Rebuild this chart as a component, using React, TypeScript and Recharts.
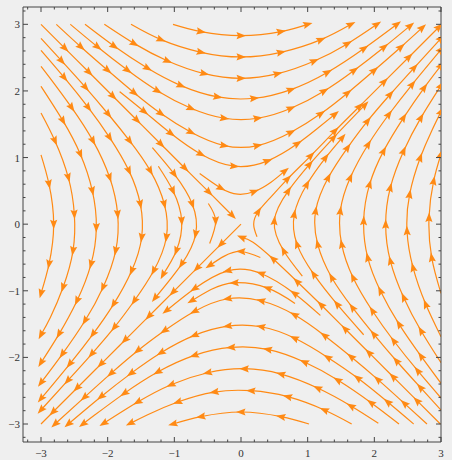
import { LineChart, Line, XAxis, YAxis } from "recharts";

// streamlines of a saddle field as [x, y] (third value 0 = no arrowhead)
const top1 = [[-1.02, 3.0], [-0.6, 2.89], [0, 2.83], [0.6, 2.89], [1.0, 3.0]];
const top2 = [[-1.65, 3.0], [-1.2, 2.77], [-0.6, 2.58], [0, 2.51], [0.6, 2.58], [1.2, 2.77], [1.65, 3.0]];
const top3 = [[-2.05, 3.0], [-1.6, 2.71], [-1.1, 2.45], [-0.55, 2.26], [0, 2.19], [0.55, 2.26], [1.1, 2.45], [1.6, 2.71], [2.04, 3.0]];
const top4 = [[-2.34, 3.0], [-1.9, 2.67], [-1.4, 2.34], [-0.9, 2.08], [-0.35, 1.91], [0.2, 1.89], [0.75, 2.02], [1.3, 2.28], [1.85, 2.64], [2.34, 3.0]];
const top5 = [[-2.56, 3.0], [-2.15, 2.66], [-1.7, 2.31], [-1.25, 2.0], [-0.75, 1.74], [-0.25, 1.59], [0.25, 1.59], [0.75, 1.74], [1.25, 2.0], [1.7, 2.31], [2.15, 2.66], [2.54, 2.98]];
const top6 = [[-2.77, 3.0], [-2.4, 2.66], [-2.0, 2.31], [-1.6, 1.97], [-1.2, 1.66], [-0.75, 1.38], [-0.25, 1.18], [0.25, 1.18], [0.75, 1.38], [1.2, 1.66], [1.6, 1.97], [2.0, 2.31], [2.4, 2.66], [2.72, 2.95]];
const top7 = [[-1.82, 1.99], [-1.45, 1.69], [-1.05, 1.36], [-0.6, 1.05], [-0.1, 0.87], [0.4, 0.95], [0.85, 1.21], [1.15, 1.44, 0], [1.41, 1.65]];
const top8 = [[-0.62, 0.76], [-0.3, 0.54], [-0.05, 0.45, 0], [0.2, 0.49], [0.45, 0.63, 0], [0.66, 0.8]];

const bot1 = [[1.02, -3.0], [0.6, -2.89], [0, -2.82], [-0.6, -2.89], [-1.02, -3.0]];
const bot2 = [[1.66, -3.0], [1.25, -2.79], [0.7, -2.59], [0.15, -2.5], [-0.4, -2.52], [-0.95, -2.67], [-1.4, -2.86, 0], [-1.66, -2.99]];
const bot3 = [[2.06, -2.99], [1.65, -2.73], [1.15, -2.46], [0.6, -2.25], [0.05, -2.17], [-0.5, -2.23], [-1.05, -2.41], [-1.55, -2.67], [-2.06, -2.99]];
const bot4 = [[2.37, -3.0], [1.95, -2.68], [1.45, -2.34], [0.95, -2.07], [0.4, -1.88], [-0.15, -1.85], [-0.7, -1.97], [-1.25, -2.22], [-1.75, -2.54], [-2.2, -2.87, 0], [-2.37, -3.0]];
const bot5 = [[2.59, -3.0], [2.2, -2.67], [1.75, -2.31], [1.3, -2.0], [0.8, -1.71], [0.3, -1.54], [-0.2, -1.53], [-0.7, -1.67], [-1.2, -1.93], [-1.65, -2.24], [-2.1, -2.59], [-2.59, -3.0]];
const bot6 = [[2.79, -3.0], [2.45, -2.69], [2.05, -2.33], [1.65, -1.99], [1.25, -1.67], [0.8, -1.36], [0.3, -1.15], [-0.2, -1.12], [-0.7, -1.31], [-1.15, -1.6], [-1.55, -1.9], [-1.95, -2.24], [-2.35, -2.6], [-2.79, -3.0]];
const bot7 = [[0.81, -1.19], [0.4, -0.96], [-0.1, -0.88], [-0.45, -0.98, 0], [-0.74, -1.15]];
const bot8 = [[0.29, -0.5], [0.0, -0.41], [-0.25, -0.48, 0], [-0.47, -0.62]];
const bot9 = [[1.19, -1.37], [0.8, -1.04], [0.3, -0.74], [-0.2, -0.7], [-0.7, -0.97], [-1.12, -1.3]];

const left1 = [[-3.0, 2.79], [-2.69, 2.45], [-2.33, 2.05], [-1.99, 1.65], [-1.67, 1.25], [-1.36, 0.8], [-1.15, 0.3], [-1.12, -0.2], [-1.31, -0.7], [-1.6, -1.15], [-1.9, -1.55], [-2.24, -1.95], [-2.6, -2.35], [-3.0, -2.79]];
const left2 = [[-3.0, 2.61], [-2.65, 2.2], [-2.29, 1.75], [-1.97, 1.3], [-1.68, 0.8], [-1.51, 0.3], [-1.49, -0.2], [-1.64, -0.7], [-1.91, -1.2], [-2.22, -1.65], [-2.57, -2.1], [-3.0, -2.62]];
const left3 = [[-3.0, 2.37], [-2.87, 2.2, 0], [-2.54, 1.75], [-2.22, 1.25], [-1.97, 0.7], [-1.85, 0.15], [-1.88, -0.4], [-2.07, -0.95], [-2.34, -1.45], [-2.68, -1.95], [-3.0, -2.38]];
const left4 = [[-3.0, 2.07], [-2.67, 1.55], [-2.41, 1.05], [-2.23, 0.5], [-2.17, -0.05], [-2.25, -0.6], [-2.46, -1.15], [-2.73, -1.65], [-3.0, -2.08]];
const left5 = [[-3.0, 1.67], [-2.79, 1.25], [-2.59, 0.7], [-2.5, 0.15], [-2.52, -0.4], [-2.67, -0.95], [-2.86, -1.4, 0], [-3.0, -1.66]];
const left6 = [[-3.0, 1.04], [-2.88, 0.6], [-2.81, 0.0], [-2.88, -0.6], [-3.0, -1.04]];
const left7 = [[-1.24, 0.87], [-1.02, 0.5], [-0.89, 0.05], [-0.97, -0.4], [-1.17, -0.76]];
const left8 = [[-1.33, 1.15], [-1.0, 0.75], [-0.73, 0.3], [-0.68, -0.15], [-0.89, -0.6], [-1.29, -1.11]];
const left9 = [[-0.49, 0.31], [-0.38, 0.05], [-0.47, -0.29, 0]];

const right1 = [[3.0, -2.79], [2.69, -2.45], [2.33, -2.05], [1.99, -1.65], [1.67, -1.25], [1.36, -0.8], [1.15, -0.3], [1.12, 0.2], [1.31, 0.7], [1.6, 1.15], [1.9, 1.55], [2.24, 1.95], [2.6, 2.35], [3.0, 2.79]];
const right2 = [[3.0, -2.61], [2.65, -2.2], [2.29, -1.75], [1.97, -1.3], [1.68, -0.8], [1.51, -0.3], [1.49, 0.2], [1.64, 0.7], [1.91, 1.2], [2.22, 1.65], [2.57, 2.1], [3.0, 2.62]];
const right3 = [[3.0, -2.39], [2.7, -1.98], [2.37, -1.5], [2.09, -1.0], [1.9, -0.5], [1.84, 0.05], [1.93, 0.6], [2.14, 1.1], [2.44, 1.6], [2.75, 2.05], [3.0, 2.38]];
const right4 = [[3.0, -2.08], [2.7, -1.6], [2.44, -1.1], [2.24, -0.55], [2.17, 0.0], [2.24, 0.55], [2.44, 1.1], [2.7, 1.6], [3.0, 2.08]];
const right5 = [[3.0, -1.69], [2.77, -1.2], [2.58, -0.65], [2.49, -0.1], [2.53, 0.45], [2.69, 1.0], [2.86, 1.4, 0], [3.0, 1.69]];
const right6 = [[3.0, -1.04], [2.86, -0.5], [2.82, 0.1], [2.89, 0.65], [3.0, 1.05]];
const right7 = [[1.84, -1.66], [1.44, -1.2], [1.09, -0.75], [0.84, -0.3], [0.8, 0.15], [0.99, 0.6], [1.27, 1.0], [1.52, 1.3]];
const right8 = [[0.92, -0.78], [0.64, -0.4], [0.5, 0.05], [0.71, 0.5], [1.03, 0.9], [1.39, 1.3], [1.86, 1.79]];

const diag1 = [[-3.0, 3.0], [-2.64, 2.64], [-2.28, 2.28], [-1.92, 1.92], [-1.56, 1.56], [-1.2, 1.2], [-0.84, 0.84], [-0.48, 0.48], [-0.13, 0.13]];
const diag2 = [[0.0, 0.0], [-0.3, -0.3], [-0.66, -0.66], [-1.02, -1.02], [-1.38, -1.38], [-1.74, -1.74], [-2.1, -2.1], [-2.46, -2.46], [-2.82, -2.82], [-3.0, -3.0, 0]];
const diag3 = [[0.24, -0.19], [0.19, 0.0, 0], [0.26, 0.19], [0.45, 0.41, 0], [0.7, 0.68], [1.05, 1.03], [1.41, 1.4], [1.78, 1.77], [2.15, 2.14], [2.52, 2.51], [2.97, 2.96]];
const diag4 = [[2.99, -3.0], [2.64, -2.65], [2.28, -2.29], [1.92, -1.93], [1.56, -1.57], [1.2, -1.21], [0.84, -0.86], [0.48, -0.52], [0.18, -0.27, 0], [0.01, -0.2]];

const xTicks = [-3.2, -3, -2.8, -2.6, -2.4, -2.2, -2, -1.8, -1.6, -1.4, -1.2, -1, -0.8, -0.6, -0.4, -0.2, 0, 0.2, 0.4, 0.6, 0.8, 1, 1.2, 1.4, 1.6, 1.8, 2, 2.2, 2.4, 2.6, 2.8, 3];
const yTicks = [...xTicks, 3.2];

const streams = [
  top1, top2, top3, top4, top5, top6, top7, top8,
  bot1, bot2, bot3, bot4, bot5, bot6, bot7, bot8, bot9,
  left1, left2, left3, left4, left5, left6, left7, left8, left9,
  right1, right2, right3, right4, right5, right6, right7, right8,
  diag1, diag2, diag3, diag4,
];

const ORANGE = "#ff8a14";
const FRAME = "#444";
const LABEL = "#333";

const toPoints = (raw: number[][]) =>
  raw.map((p, i) => {
    const prev = raw[Math.max(i - 1, 0)];
    const next = raw[Math.min(i + 1, raw.length - 1)];
    return { x: p[0], y: p[1], arrow: i > 0 && p[2] !== 0, dx: next[0] - prev[0], dy: next[1] - prev[1] };
  });

const series = streams.map(toPoints);

const isMajor = (v: number) => Math.abs(v - Math.round(v)) < 1e-6;
const fmt = (v: number) => (v < 0 ? "\u2212" + Math.abs(Math.round(v)) : String(Math.round(v)));

// arrowhead along the stream; x and y share the same px-per-unit so the data direction works directly
const Arrow = (props: any) => {
  const { cx, cy, payload, index } = props;
  if (!payload || !payload.arrow || cx == null || cy == null) return <g key={`n${index}`} />;
  const len = Math.hypot(payload.dx, payload.dy) || 1;
  const ux = payload.dx / len;
  const uy = -payload.dy / len;
  const tipX = cx + 5 * ux, tipY = cy + 5 * uy;
  const bx = cx - 4.5 * ux, by = cy - 4.5 * uy;
  const nx = -uy * 3.6, ny = ux * 3.6;
  const d = `M${tipX},${tipY} L${bx + nx},${by + ny} L${bx + 1.5 * ux},${by + 1.5 * uy} L${bx - nx},${by - ny} Z`;
  return <path key={`a${index}`} d={d} fill={ORANGE} stroke="none" />;
};

const BottomTick = ({ x, y, payload }: any) => {
  const major = isMajor(payload.value);
  return (
    <g>
      <line x1={x} x2={x} y1={y} y2={y - (major ? 5 : 2.5)} stroke={FRAME} />
      {major && (
        <text x={x} y={y + 15} textAnchor="middle" fontFamily="Liberation Serif" fontSize={11} fill={LABEL}>
          {fmt(payload.value)}
        </text>
      )}
    </g>
  );
};

const TopTick = ({ x, y, payload }: any) => {
  const major = isMajor(payload.value);
  return <line x1={x} x2={x} y1={y} y2={y + (major ? 5 : 2.5)} stroke={FRAME} />;
};

const LeftTick = ({ x, y, payload }: any) => {
  const major = isMajor(payload.value);
  return (
    <g>
      <line x1={x} x2={x + (major ? 5 : 2.5)} y1={y} y2={y} stroke={FRAME} />
      {major && (
        <text x={x - 3} y={y + 4} textAnchor="end" fontFamily="Liberation Serif" fontSize={11} fill={LABEL}>
          {fmt(payload.value)}
        </text>
      )}
    </g>
  );
};

const RightTick = ({ x, y, payload }: any) => {
  const major = isMajor(payload.value);
  return <line x1={x} x2={x - (major ? 5 : 2.5)} y1={y} y2={y} stroke={FRAME} />;
};

export default function App() {
  return (
    <div style={{ position: "fixed", left: 0, top: 0, width: 452, height: 460, background: "#efefef", fontFamily: "Liberation Serif" }}>
      <LineChart width={452} height={460} margin={{ top: 6, right: 10, bottom: 0, left: 0 }}>
        <XAxis
          type="number"
          dataKey="x"
          domain={[-3.27, 3]}
          allowDataOverflow
          ticks={xTicks}
          interval={0}
          height={18}
          tickSize={0}
          tickMargin={0}
          tickLine={false}
          axisLine={{ stroke: FRAME }}
          tick={<BottomTick />}
        />
        <XAxis
          xAxisId="top"
          orientation="top"
          type="number"
          dataKey="x"
          domain={[-3.27, 3]}
          allowDataOverflow
          ticks={xTicks}
          interval={0}
          height={1}
          tickSize={0}
          tickMargin={0}
          tickLine={false}
          axisLine={{ stroke: FRAME }}
          tick={<TopTick />}
        />
        <YAxis
          type="number"
          dataKey="y"
          domain={[-3.27, 3.26]}
          allowDataOverflow
          ticks={yTicks}
          interval={0}
          width={23}
          tickSize={0}
          tickMargin={0}
          tickLine={false}
          axisLine={{ stroke: FRAME }}
          tick={<LeftTick />}
        />
        <YAxis
          yAxisId="right"
          orientation="right"
          type="number"
          dataKey="y"
          domain={[-3.27, 3.26]}
          allowDataOverflow
          ticks={yTicks}
          interval={0}
          width={1}
          tickSize={0}
          tickMargin={0}
          tickLine={false}
          axisLine={{ stroke: FRAME }}
          tick={<RightTick />}
        />
        {series.map((pts, i) => (
          <Line
            key={i}
            data={pts}
            dataKey="y"
            type="natural"
            stroke={ORANGE}
            strokeWidth={1.2}
            dot={Arrow}
            activeDot={false}
            isAnimationActive={false}
          />
        ))}
      </LineChart>
    </div>
  );
}
